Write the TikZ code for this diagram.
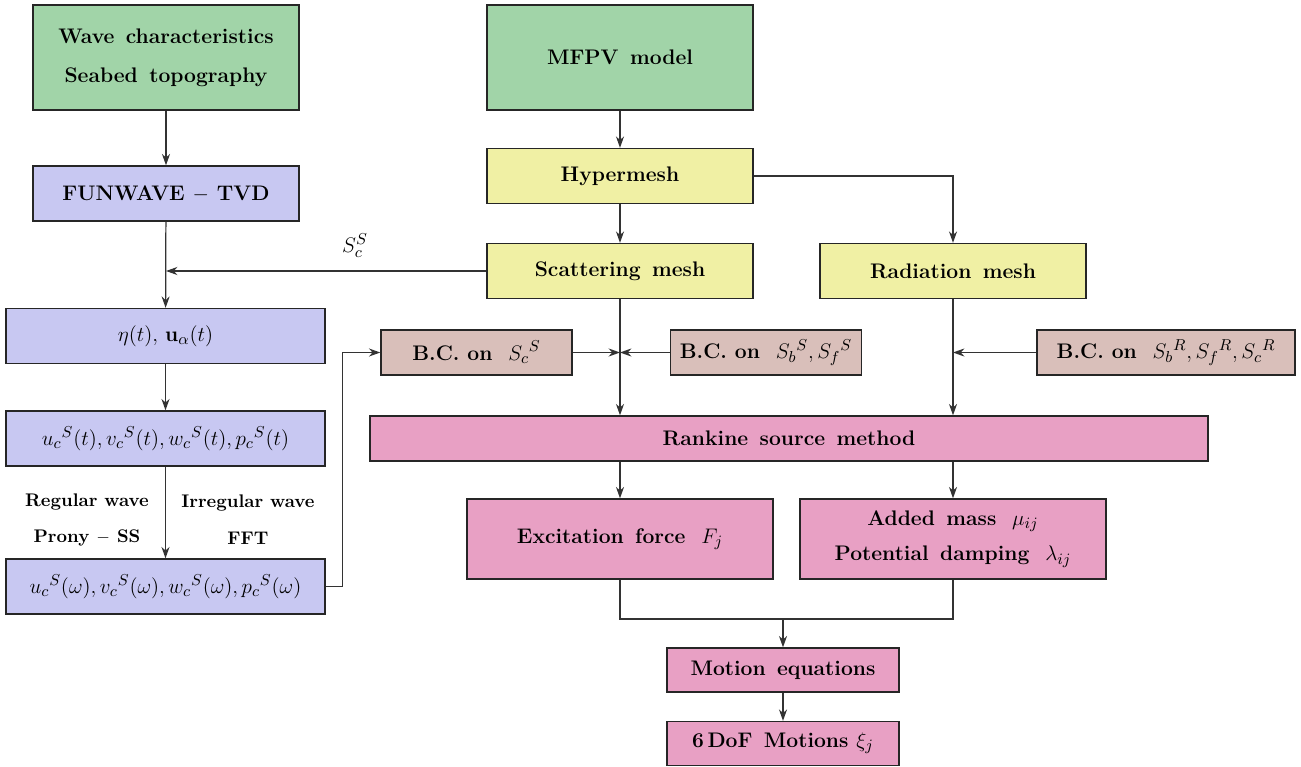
\documentclass[tikz,border=0pt]{standalone}
\usepackage{amsmath}
\usepackage{xcolor}
\usepackage{tikz}
\usetikzlibrary{arrows.meta,calc,positioning}
\definecolor{ink}{HTML}{333333}
\definecolor{sea}{HTML}{A1D4A8}
\definecolor{fun}{HTML}{C8C8F2}
\definecolor{mesh}{HTML}{F0F0A4}
\definecolor{bc}{HTML}{D9BFBA}
\definecolor{rank}{HTML}{E8A0C4}
\newcommand{\mx}[1]{{\fontsize{13.2}{16}\selectfont$#1$}}

\begin{document}
\begin{tikzpicture}[x=0.02cm,y=-0.02cm,font=\fontsize{12}{14}\selectfont\bfseries,
  box/.style={draw=black!85,line width=0.8pt,minimum height=1.1cm,inner sep=2pt,align=center},
  lab/.style={align=center,font=\fontsize{10.4}{13}\selectfont\bfseries},
  arr/.style={draw=ink,line width=0.7pt,-{Stealth[length=6.5pt,width=4.6pt]}},
  ln/.style={draw=ink,line width=0.7pt}]
\useasboundingbox (0,0) rectangle (1301,767);
% left column
\node[box,fill=sea,minimum width=5.32cm,minimum height=2.1cm] (wave) at (166,57.5) {Wave\ \,characteristics\\[8pt]Seabed\ \,topography};
\node[box,fill=fun,minimum width=5.32cm] (fwave) at (166,193.5) {FUNWAVE $-$ TVD};
\node[box,fill=fun,minimum width=6.38cm] (eta) at (165.5,336) {\mx{\eta(t),\,\mathbf{u}_\alpha(t)}};
\node[box,fill=fun,minimum width=6.38cm] (ut) at (165.5,438.5) {\mx{{u_c}^S(t),{v_c}^S(t),{w_c}^S(t),{p_c}^S(t)}};
\node[box,fill=fun,minimum width=6.38cm] (uw) at (165.5,586.5) {\mx{{u_c}^S(\omega),{v_c}^S(\omega),{w_c}^S(\omega),{p_c}^S(\omega)}};
\node[lab] (reg) at (87,520) {Regular\ wave\\[8pt]Prony $-$ SS};
\node[lab] (irr) at (248,520) {Irregular\ wave\\[8pt]FFT};
% right part
\node[box,fill=sea,minimum width=5.32cm,minimum height=2.1cm] (mfpv) at (620,57.5) {MFPV\ \,model};
\node[box,fill=mesh,minimum width=5.32cm] (hyp) at (620,176) {Hypermesh};
\node[box,fill=mesh,minimum width=5.32cm] (scat) at (620,271) {Scattering\ \,mesh};
\node[box,fill=mesh,minimum width=5.32cm] (rad) at (953,271) {Radiation\ \,mesh};
\node[box,fill=bc,minimum width=3.82cm,minimum height=0.9cm] (bcc) at (476.5,352.5) {B.C.\ on\ \ \mx{{S_c}^S}};
\node[box,fill=bc,minimum width=3.82cm,minimum height=0.9cm] (bcs) at (766,352.5) {B.C.\ on\ \ \mx{{S_b}^S,{S_f}^S}};
\node[box,fill=bc,minimum width=5.16cm,minimum height=0.9cm] (bcr) at (1166,352.5) {B.C.\ on\ \ \mx{{S_b}^R,{S_f}^R,{S_c}^R}};
\node[box,fill=rank,minimum width=16.76cm,minimum height=0.9cm] (rsm) at (789,438.5) {Rankine\ \,source\ \,method};
\node[box,fill=rank,minimum width=6.12cm,minimum height=1.6cm] (exc) at (620,539) {Excitation\ \,force\ \ \mx{F_j}};
\node[box,fill=rank,minimum width=6.12cm,minimum height=1.6cm] (add) at (953,539) {Added\ \,mass\ \ \mx{\mu_{ij}}\\[6pt]Potential\ \,damping\ \ \mx{\lambda_{ij}}};
\node[box,fill=rank,minimum width=4.64cm,minimum height=0.88cm] (mot) at (783,670) {Motion\ \,equations};
\node[box,fill=rank,minimum width=4.64cm,minimum height=0.88cm] (dof) at (783,743.5) {6\,DoF\ \,Motions\ \mx{\xi_j}};
% joints
\coordinate (js) at (scat.south |- bcc.east);
\coordinate (jr) at (rad.south |- bcr.west);
\coordinate (jm) at (mot.north |- 0,619);
% connectors
\draw[arr] (wave) -- (fwave);
\draw[arr] (fwave) -- (eta);
\draw[arr] (scat.west) -- (fwave.south |- scat.west) node[pos=0.41,above=4pt,font=\fontsize{13.2}{16}\selectfont] {$S_c^S$};
\draw[arr] (eta) -- (ut);
\draw[arr] (ut) -- (uw);
\draw[arr] (uw.east) -- ++(17,0) |- (bcc.west);
\draw[arr] (mfpv) -- (hyp);
\draw[arr] (hyp) -- (scat);
\draw[arr] (hyp.east) -| (rad.north);
\draw[arr] (scat.south) -- (scat.south |- rsm.north);
\draw[arr] (bcc) -- (js);
\draw[arr] (bcs) -- (js);
\draw[arr] (rad.south) -- (rad.south |- rsm.north);
\draw[arr] (bcr) -- (jr);
\draw[arr] (exc.north |- rsm.south) -- (exc);
\draw[arr] (add.north |- rsm.south) -- (add);
\draw[ln] (exc.south) |- (jm);
\draw[ln] (add.south) |- (jm);
\draw[arr] (jm) -- (mot);
\draw[arr] (mot) -- (dof);
\end{tikzpicture}
\end{document}
